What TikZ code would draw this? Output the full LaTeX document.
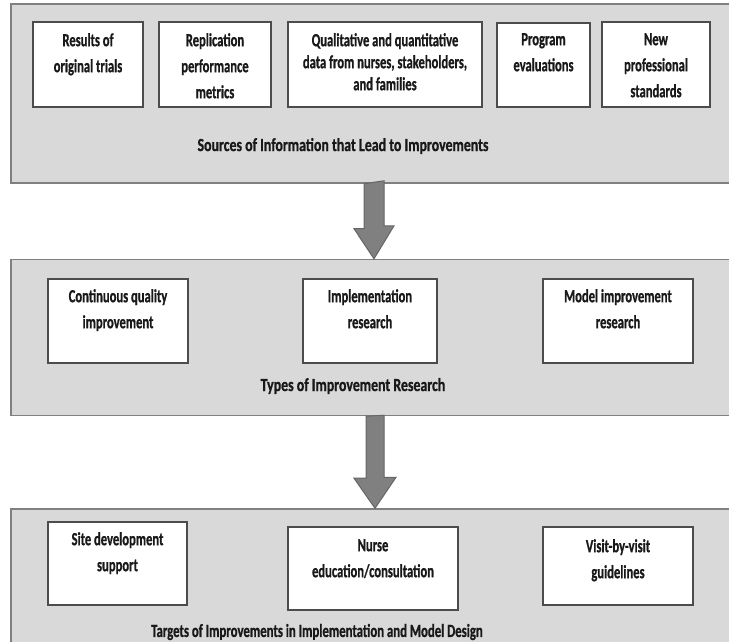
\documentclass[tikz,border=0pt]{standalone}
\usepackage{fontspec}
\newfontfamily\labfont{Carlito}[FakeStretch=0.68,FakeBold=0.8]
\newfontfamily\labfontw{Carlito}[FakeStretch=0.75,FakeBold=0.8]
\newfontfamily\labfontm{Carlito}[FakeStretch=0.69,FakeBold=0.8]
\begin{document}
\begin{tikzpicture}[x=1pt,y=-1pt,
  panel/.style={draw=black!50, line width=1.4pt, fill=black!15, inner sep=0pt},
  wbox/.style={draw=black!70, line width=1.3pt, fill=white, inner sep=0pt},
  txt/.style={font=\labfont\bfseries\fontsize{18.5}{26}\selectfont, text=black!90, align=center, inner sep=0pt, anchor=north},
  lbl/.style={font=\labfontw\bfseries\fontsize{18.5}{26}\selectfont, text=black!90, inner sep=0pt},
  bigarrow/.style={fill=black!50, draw=black!60, line width=1pt, line join=miter}
]
\useasboundingbox (0,0) rectangle (729,641);
\fill[white] (0,0) rectangle (729,641);

% panels
\node[panel, minimum width=740pt, minimum height=179pt] (p1) at (381,93.5) {};
\node[panel, minimum width=740pt, minimum height=156pt] (p2) at (381,337.5) {};
\node[panel, minimum width=740pt, minimum height=160pt] (p3) at (381,589) {};

% row 1
\node[wbox, minimum width=110pt, minimum height=85pt] (b1) at (88,64.5) {};
\node[wbox, minimum width=112pt, minimum height=85pt] (b2) at (215,64.5) {};
\node[wbox, minimum width=194pt, minimum height=85pt] (b3) at (385,64.5) {};
\node[wbox, minimum width=93pt, minimum height=84pt] (b4) at (543.5,65) {};
\node[wbox, minimum width=108pt, minimum height=85pt] (b5) at (656,64.5) {};
\node[txt] (t1) at (88,33) {Results of\\original trials};
\node[txt] (t2) at (215,33) {Replication\\performance\\metrics};
\node[txt, font=\labfont\bfseries\fontsize{18.5}{22}\selectfont] (t3) at (385,33) {Qualitative and quantitative\\data from nurses, stakeholders,\\and families};
\node[txt] (t4) at (543.5,33) {Program\\evaluations};
\node[txt] (t5) at (656,33) {New\\professional\\standards};
\node[lbl] (l1) at (343,146) {Sources of Information that Lead to Improvements};

% row 2
\node[wbox, minimum width=140pt, minimum height=84pt] (c1) at (118,321) {};
\node[wbox, minimum width=134pt, minimum height=84pt] (c2) at (370,321) {};
\node[wbox, minimum width=150pt, minimum height=84pt] (c3) at (618,321) {};
\node[txt] (s1) at (118,289) {Continuous quality\\improvement};
\node[txt] (s2) at (370,289) {Implementation\\research};
\node[txt] (s3) at (618,289) {Model improvement\\research};
\node[lbl] (l2) at (353,386) {Types of Improvement Research};

% row 3
\node[wbox, minimum width=139pt, minimum height=83pt] (d1) at (117.5,563.5) {};
\node[wbox, minimum width=170pt, minimum height=83pt] (d2) at (373,568.5) {};
\node[wbox, minimum width=150pt, minimum height=78pt] (d3) at (618,566) {};
\node[txt] (u1) at (117.5,532) {Site development\\support};
\node[txt] (u2) at (373,539) {Nurse\\education/consultation};
\node[txt] (u3) at (618,539) {Visit-by-visit\\guidelines};
\node[lbl, font=\labfontm\bfseries\fontsize{18.5}{26}\selectfont] (l3) at (317,632) {Targets of Improvements in Implementation and Model Design};

% arrows
\coordinate (a1s) at (p1.south -| 374,0);
\coordinate (a1e) at (p2.north -| 374,0);
\coordinate (a2s) at (p2.south -| 375,0);
\coordinate (a2e) at (p3.north -| 375,0);
\draw[bigarrow] (a1s) ++(-10,0) -- ++(0,45) -- ++(-10,0) -- (a1e) -- ++(20,-33) -- ++(-10,0) -- ++(0,-45) -- cycle;
\draw[bigarrow] (a2s) ++(-9,0) -- ++(0,62) -- ++(-12,0) -- (a2e) -- ++(21,-31) -- ++(-12,0) -- ++(0,-62) -- cycle;
\end{tikzpicture}
\end{document}
